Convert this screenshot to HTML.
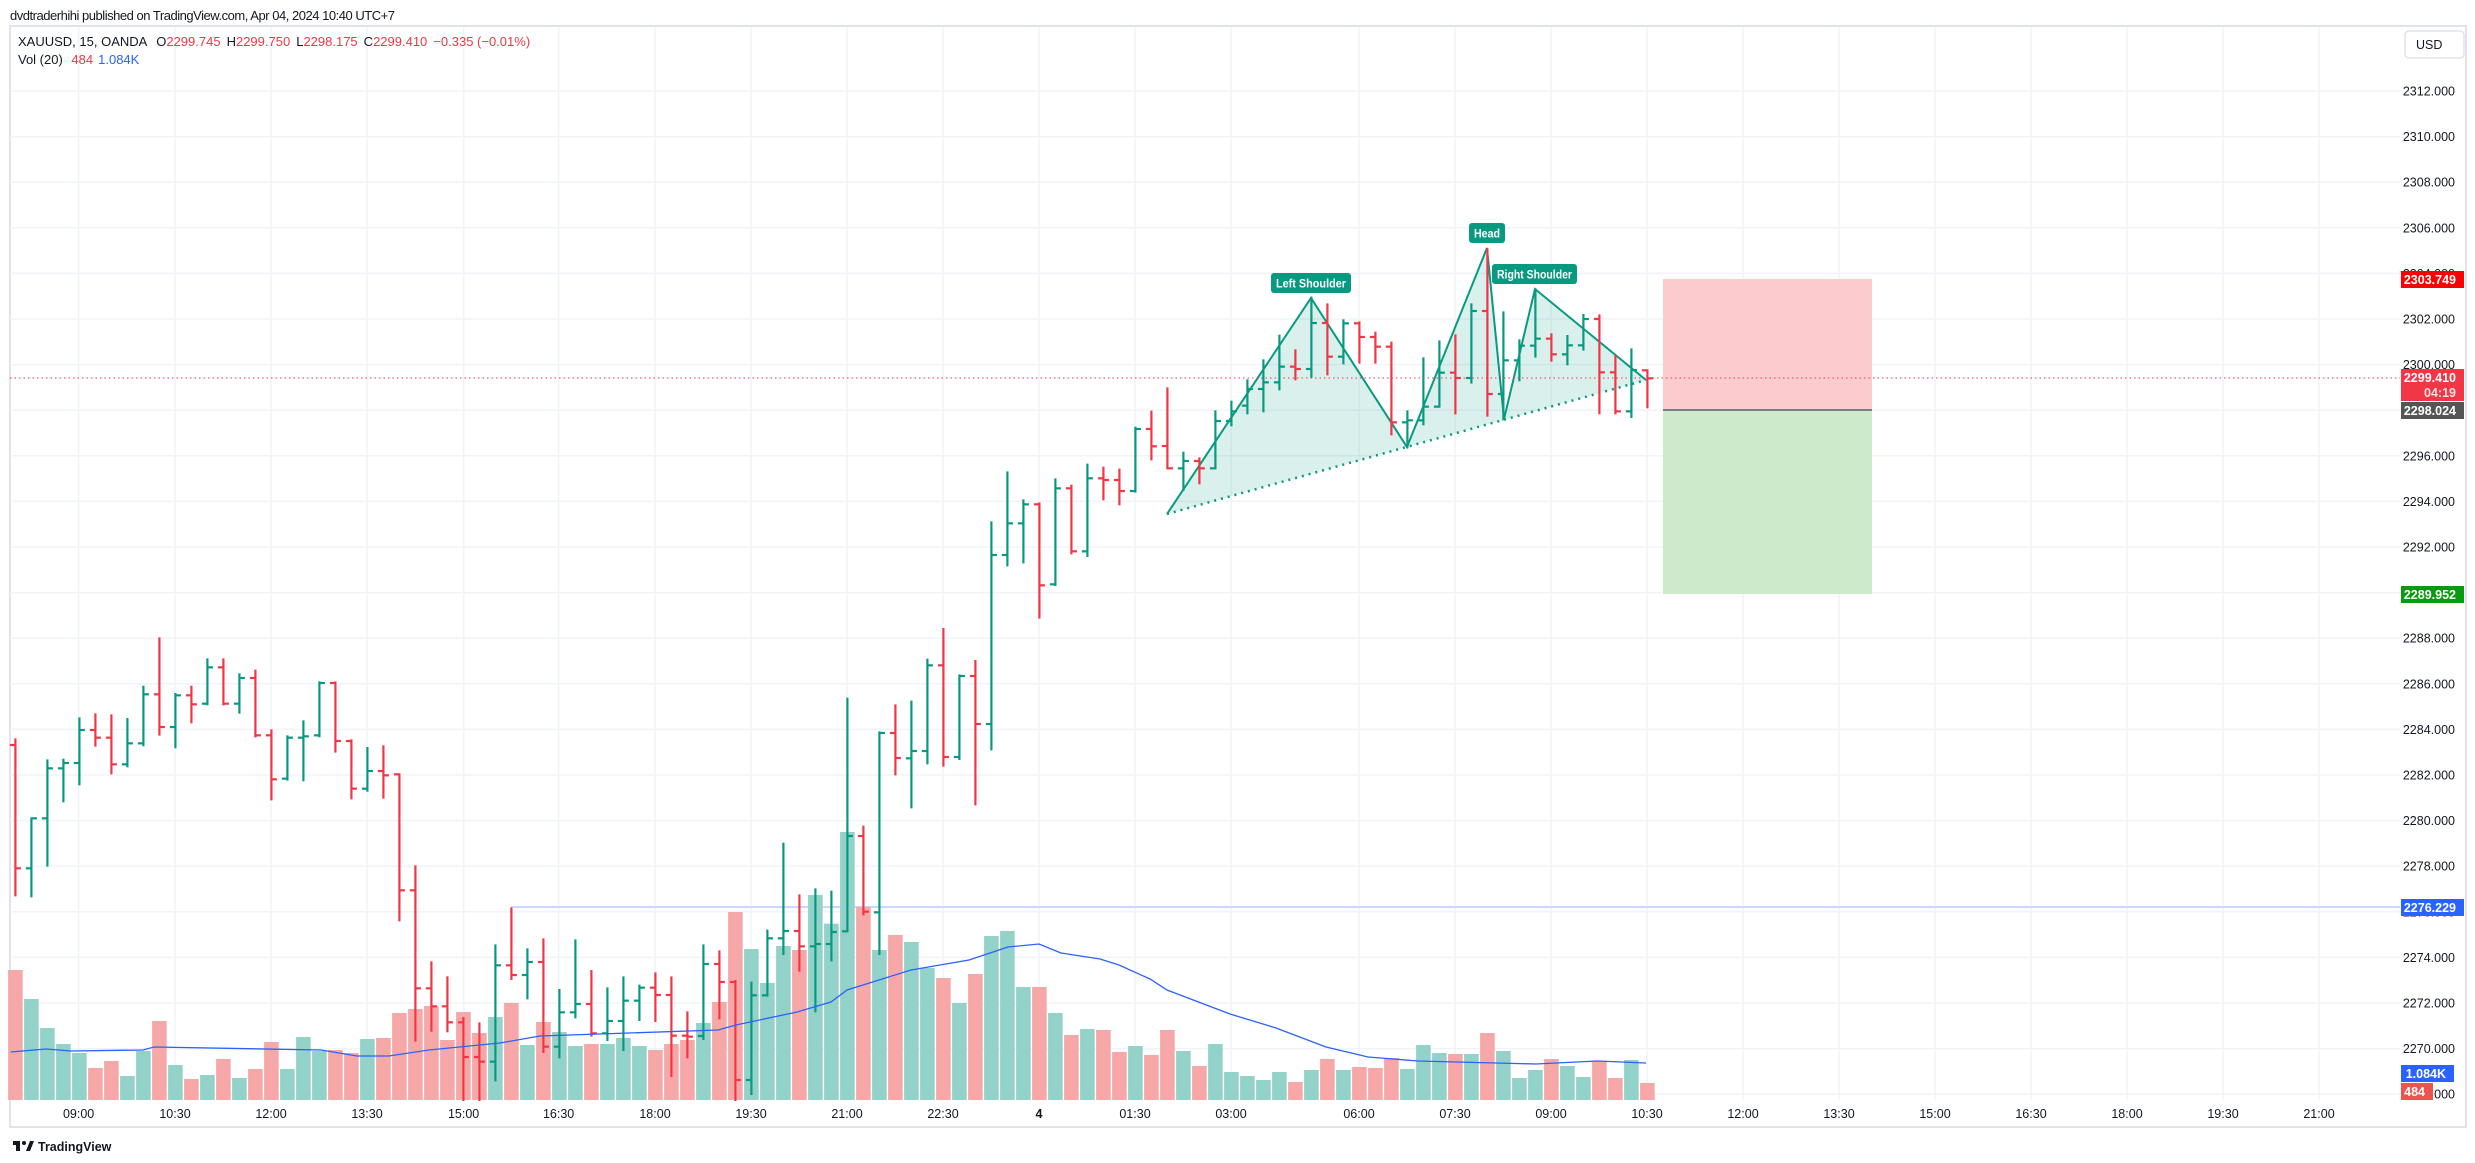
<!DOCTYPE html>
<html><head><meta charset="utf-8"><style>
html,body{margin:0;padding:0;background:#fff;width:2475px;height:1163px;overflow:hidden}
svg{position:absolute;left:0;top:0}
text{font-family:"Liberation Sans",sans-serif}
</style></head><body>
<svg id="s" width="2475" height="1163" viewBox="0 0 2475 1163" xmlns="http://www.w3.org/2000/svg">
<rect x="0" y="0" width="2475" height="1163" fill="#fff"/>
<text x="10" y="20" font-size="13" fill="#131722" textLength="385">dvdtraderhihi published on TradingView.com, Apr 04, 2024 10:40 UTC+7</text>
<rect x="10" y="26" width="2456" height="1101" fill="none" stroke="#e0e3eb" stroke-width="2"/>
<g id="grid" stroke="#f0f3fa" stroke-width="1.5"></g>
<g id="pattern"></g>
<g id="vol"></g>
<g id="bars"></g>
<g id="over"></g>
<g id="axis" font-size="12.5" fill="#131722"></g>
<text x="18" y="46" font-size="13" fill="#131722">XAUUSD, 15, OANDA <tspan dx="6">O</tspan><tspan fill="#f23645">2299.745</tspan><tspan dx="6">H</tspan><tspan fill="#f23645">2299.750</tspan><tspan dx="6">L</tspan><tspan fill="#f23645">2298.175</tspan><tspan dx="6">C</tspan><tspan fill="#f23645">2299.410</tspan><tspan dx="6" fill="#f23645">−0.335 (−0.01%)</tspan></text>
<text x="18" y="64" font-size="13" fill="#131722">Vol (20) <tspan dx="5" fill="#f23645">484</tspan><tspan dx="5" fill="#2962ff">1.084K</tspan></text>
<rect x="2405" y="31" width="59" height="27" rx="4" fill="#fff" stroke="#e0e3eb" stroke-width="1.5"/>
<text x="2416" y="49" font-size="12.5" fill="#131722">USD</text>
<g transform="translate(13,1139)"><rect x="0" y="2" width="7" height="4" fill="#131722"/><rect x="3" y="2" width="4" height="10" fill="#131722"/><circle cx="11" cy="4" r="2" fill="#131722"/><path d="M13 12 L17 2 L21 2 L17 12 Z" fill="#131722"/>
<text x="25" y="12" font-size="12.5" font-weight="bold" fill="#131722">TradingView</text></g>
</svg>
<script>
var NS="http://www.w3.org/2000/svg";
function el(p,t,a,txt){var e=document.createElementNS(NS,t);for(var k in a)e.setAttribute(k,a[k]);if(txt!=null)e.textContent=txt;document.getElementById(p).appendChild(e);return e;}
function py(p){return 91+(2312-p)*22.8;}
for(var p=2312;p>=2268;p-=2){var y=py(p);el('grid','line',{x1:10,x2:2400,y1:y,y2:y});}
var times=[[78.6,"09:00"],[175,"10:30"],[271,"12:00"],[367,"13:30"],[463.6,"15:00"],[558.6,"16:30"],[655,"18:00"],[751,"19:30"],[847,"21:00"],[943,"22:30"],[1039,"4"],[1135,"01:30"],[1231,"03:00"],[1359,"06:00"],[1455,"07:30"],[1551,"09:00"],[1647,"10:30"],[1743,"12:00"],[1839,"13:30"],[1935,"15:00"],[2031,"16:30"],[2127,"18:00"],[2223,"19:30"],[2319,"21:00"]];
times.forEach(function(t){el('grid','line',{x1:t[0],x2:t[0],y1:27,y2:1100});
var a={x:t[0],y:1118,'text-anchor':'middle'};if(t[1]=="4")a['font-weight']='bold';el('axis','text',a,t[1]);});
for(var p=2312;p>=2268;p-=2){el('axis','text',{x:2455,y:py(p)+4.5,'text-anchor':'end'},p.toFixed(3));}
el('pattern','rect',{x:1663,y:279,width:209,height:131,fill:'#fccbcd'});
el('pattern','rect',{x:1663,y:410,width:209,height:184,fill:'#cdebcb'});
el('pattern','line',{x1:1663,x2:1872,y1:410,y2:410,stroke:'#5d606b','stroke-width':1.5});
el('pattern','polygon',{points:'1167,514 1311,298 1407,447 1487,248 1504,419 1535,289 1646,380',fill:'rgba(8,153,129,0.15)'});
el('pattern','polyline',{points:'1167,514 1311,298 1407,447 1487,248 1504,419 1535,289 1646,380',fill:'none',stroke:'#089981','stroke-width':2});
el('pattern','line',{x1:1167,y1:514,x2:1646,y2:380,stroke:'#089981','stroke-width':2.5,'stroke-dasharray':'2 5'});
el('pattern','line',{x1:511,x2:2400,y1:907,y2:907,stroke:'#c9d6fd','stroke-width':2});
el('pattern','line',{x1:10,x2:2400,y1:378,y2:378,stroke:'#f23645','stroke-width':1,'stroke-dasharray':'1.5 3'});
var B=[[418,886,435,805],[655,889,805,655],[481,797,655,505],[479,604,505,489],[355,553,489,390],[343,437,390,413],[346,520,413,493],[357,499,493,430],[260,436,430,283],[115,404,283,381],[282,442,381,286],[260,367,286,313],[178,313,311,202],[178,313,202,311],[223,338,311,234],[212,409,234,406],[391,598,406,538],[409,539,536,413],[364,541,413,409],[247,409,406,249],[247,455,249,423],[421,595,423,566],[444,572,566,513],[439,593,513,526],[523,961,523,871],[799,1322,871,1165],[1087,1292,1165,1219],[1132,1294,1219,1267],[1254,1500,1267,1371],[1270,1500,1371,1385],[1036,1441,1385,1096],[925,1137,1096,1125],[1048,1195,1125,1086],[1018,1356,1086,1340],
[1170,1372,1340,1237],[1021,1252,1237,1212],[1113,1307,1212,1300],[1165,1320,1300,1263],[1132,1350,1263,1202],[1157,1260,1202,1163],[1120,1263,1163,1185],[1132,1428,1185,1307],[1237,1372,1307,1310],[1036,1317,1308,1092],[1054,1255,1092,1146],[1143,1500,1146,1440],[1148,1482,1440,1186],[992,1187,1186,1015],[731,1062,1015,993],[886,1112,993,1039],[868,1234,1039,1032],[875,1081,1032,996],[296,994,994,708],[680,943,708,935],[397,1062,937,399],[316,523,399,474],
[965,1282,1135,1113],[839,1150,1113,856],[747,1157,856,1131],[886,1137,1131,888],[843,1273,888,1032],[427,1108,1032,525],[277,556,525,430],[361,547,430,373],[370,713,373,616],[298,615,613,325],[317,520,325,514],[254,528,514,295],[263,358,295,300],[269,373,300,333],[143,335,333,147],[95,238,147,199],
[565,805,738,805],[758,870,805,783],[775,850,783,805],[634,805,805,663],[605,676,663,634],[541,640,617,567],[481,634,567,547],[407,568,547,500],[451,538,500,507],[293,530,507,369],[313,523,369,470],[361,490,470,370],[367,488,370,411],[398,488,411,440],[428,703,440,667],[634,742,667,661],[475,673,661,620],[424,620,620,518],[406,640,518,534],[313,548,534,333],[148,647,333,582],[337,658,582,481],[421,541,481,437],[268,470,437,416],[403,482,416,463],[408,493,463,436],[345,449,436,357],[346,640,357,517],[467,640,517,634],[448,651,634,510],[511,622,511,535]];
var V=[1110,1197,1284,1332,1359,1404,1383,1428,1353,1263,1395,1437,1425,1377,1434,1407,1326,1407,1311,1353,1350,1359,1317,1314,1239,1227,1218,1320,1236,1299,1251,1209,1335,1266,1296,
1338,1332,1332,1314,1338,1350,1332,1320,1269,1206,936,1047,1149,1038,1050,885,971,696,921,1050,1005,1026,1104,1134,1209,1122,1008,993,1161,1161,1239,1305,1287,
570,636,618,645,570,633,678,612,696,708,720,696,726,690,657,690,681,684,654,687,615,639,642,642,579,633,714,690,657,678,711,663,714,660,729];
function oy(i){return i<=55?600:(i<=71?380:200);}
for(var i=0;i<B.length;i++){
var x=15.4+16*i,o=oy(i),b=B[i];
var H=o+b[0]/3,L=Math.min(1100,o+b[1]/3),O=o+b[2]/3,C=o+b[3]/3;
var up=C<=O;var col=up?'#089981':'#f23645';
var vt=(i<=67?600+V[i]/3:840+V[i]/3);
el('vol','rect',{x:x-7.3,y:vt,width:14.6,height:1100-vt,fill:up?'#93d2c8':'#f6a8a8'});
el('bars','line',{x1:x,x2:x,y1:H-1,y2:L+1,stroke:col,'stroke-width':2.2});
el('bars','line',{x1:x-5.5,x2:x,y1:O,y2:O,stroke:col,'stroke-width':2.2});
el('bars','line',{x1:x,x2:x+5.5,y1:C,y2:C,stroke:col,'stroke-width':2.2});
}
el('over','polyline',{points:'10.7,1052 46,1049 71,1051 143,1050 154,1047 321,1050 357,1056 389,1056 429,1050 500,1043 540,1036 718,1030 736,1025 797,1012 831,1002 847,990 879,980 911,970 969,960 1008,947 1039,944 1061,953 1100,959 1119,965 1150,979 1167,990 1188,998 1230,1014 1276,1028 1326,1047 1368,1057 1418,1061 1536,1064 1597,1061 1646,1063',fill:'none',stroke:'#2962ff','stroke-width':1.3});
function lab(x,y,w,t){el('over','rect',{x:x,y:y,width:w,height:20,rx:3,fill:'#089981'});el('over','text',{x:x+w/2,y:y+14.5,'text-anchor':'middle','font-size':'11.5','font-weight':'bold',fill:'#fff',textLength:w-10,lengthAdjust:'spacingAndGlyphs'},t);}
lab(1271,273,80,'Left Shoulder');lab(1469,223,36,'Head');lab(1492,264,85,'Right Shoulder');
function box(y,h,w,fill,t,t2){el('axis','rect',{x:2401,y:y,width:w,height:h,fill:fill});el('axis','text',{x:2401+w-8,y:y+13,'text-anchor':'end',fill:'#fff','font-weight':'bold'},t);if(t2)el('axis','text',{x:2401+w-8,y:y+28,'text-anchor':'end',fill:'#fde0e2','font-weight':'bold'},t2);}
box(271,17,63,'#ff0000','2303.749');
box(369,32,63,'#f23645','2299.410','04:19');
box(402,17,63,'#555555','2298.024');
box(586,17,63,'#089b0e','2289.952');
box(899,17,63,'#2962ff','2276.229');
box(1065,17,53,'#2962ff','1.084K');
box(1083,17,32,'#ef5350','484');
</script>
</body></html>
